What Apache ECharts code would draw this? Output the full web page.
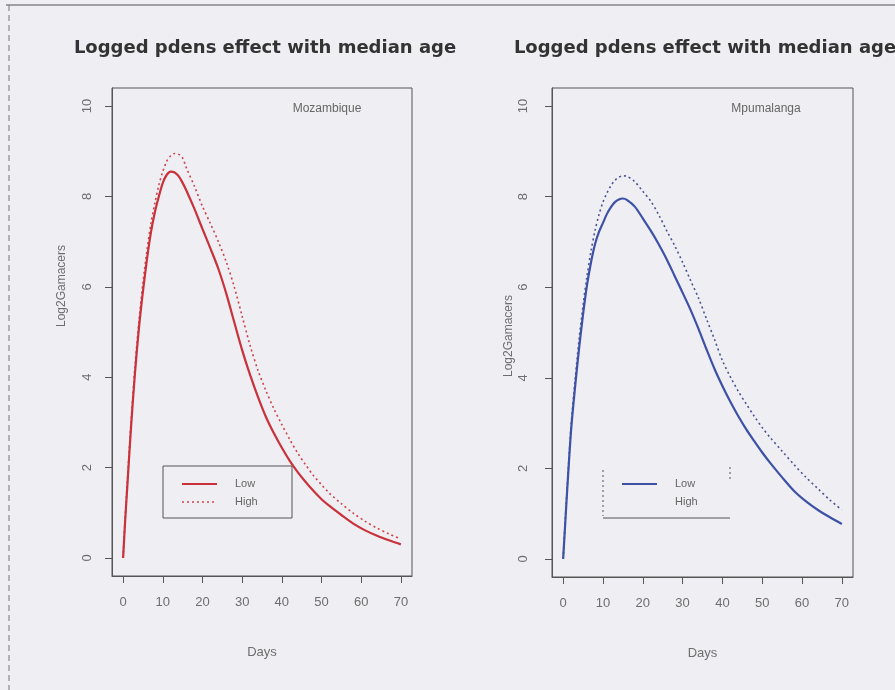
<!DOCTYPE html>
<html>
<head>
<meta charset="utf-8">
<script src="https://cdn.jsdelivr.net/npm/echarts@6/dist/echarts.min.js"></script>
<style>
  html, body { margin: 0; padding: 0; background: #eeeef3; }
  #chart { width: 895px; height: 690px; }
</style>
</head>
<body>
<div id="chart"></div>
<script>
// Days since infection (shared x values for every curve)
const days = [0, 0.5, 1, 2, 3, 4, 5, 6, 7, 8, 9, 10, 11, 12, 13, 14, 15, 16,
  18, 20, 22, 24, 26, 28, 30, 32, 34, 36, 38, 40, 42, 44, 46, 48, 50, 52,
  55, 58, 61, 64, 67, 70];

// Mozambique: log2 gametocyte density, low vs high population density
const mozLow = [0, 0.8, 1.5, 2.9, 4.1, 5.1, 5.9, 6.6, 7.2, 7.65, 8.0, 8.3, 8.48, 8.55, 8.53, 8.45, 8.3, 8.12,
  7.72, 7.28, 6.85, 6.4, 5.85, 5.22, 4.6, 4.05, 3.56, 3.12, 2.76, 2.44, 2.15, 1.9, 1.68, 1.48, 1.3, 1.15,
  0.95, 0.76, 0.61, 0.49, 0.39, 0.3];
const mozHigh = [0, 0.85, 1.6, 3.0, 4.25, 5.25, 6.1, 6.8, 7.4, 7.85, 8.25, 8.55, 8.78, 8.9, 8.95, 8.93, 8.85, 8.62,
  8.22, 7.78, 7.4, 7.0, 6.55, 6.0, 5.35, 4.7, 4.15, 3.7, 3.3, 2.95, 2.62, 2.32, 2.06, 1.82, 1.62, 1.43,
  1.2, 0.99, 0.81, 0.66, 0.53, 0.42];

// Mpumalanga
const mpuLow = [0, 0.75, 1.5, 2.85, 3.8, 4.65, 5.4, 6.05, 6.55, 6.95, 7.22, 7.42, 7.62, 7.77, 7.88, 7.94, 7.96, 7.93,
  7.78, 7.52, 7.25, 6.95, 6.62, 6.25, 5.88, 5.5, 5.08, 4.63, 4.2, 3.82, 3.47, 3.15, 2.86, 2.6, 2.35, 2.12,
  1.8, 1.5, 1.27, 1.08, 0.92, 0.77];
const mpuHigh = [0, 0.8, 1.55, 2.95, 3.95, 4.85, 5.6, 6.25, 6.8, 7.25, 7.6, 7.88, 8.08, 8.24, 8.36, 8.43, 8.46, 8.45,
  8.33, 8.12, 7.9, 7.6, 7.25, 6.92, 6.55, 6.15, 5.76, 5.3, 4.85, 4.38, 4.02, 3.7, 3.42, 3.15, 2.9, 2.68,
  2.38, 2.08, 1.8, 1.55, 1.3, 1.08];

const xTicks = [0, 10, 20, 30, 40, 50, 60, 70];
const yTicks = [0, 2, 4, 6, 8, 10];

const panelTitle = 'Logged pdens effect with median age';
const regions = ['Mozambique', 'Mpumalanga'];
const legendNames = ['Low', 'High'];

const pairs = (ys) => days.map((d, i) => [d, ys[i]]);

const axisGrey = '#555';
const labelGrey = '#6e6e6e';
const tickFont = 'Liberation Sans, Arial, sans-serif';

function xAxis(gridIndex) {
  return {
    type: 'value', gridIndex, min: -2.8, max: 72.8,
    name: 'Days', nameLocation: 'middle', nameGap: 70,
    nameTextStyle: { color: labelGrey, fontSize: 13, fontFamily: tickFont },
    axisLine: { show: true, onZero: false, lineStyle: { color: axisGrey, width: 1 } },
    axisTick: { show: true, inside: false, length: 7, customValues: xTicks, lineStyle: { color: axisGrey } },
    axisLabel: { customValues: xTicks, margin: 20, color: labelGrey, fontSize: 13, fontFamily: tickFont },
    splitLine: { show: false }
  };
}

function yAxis(gridIndex, margin) {
  return {
    type: 'value', gridIndex, min: -0.4, max: 10.4,
    axisLine: { show: true, onZero: false, lineStyle: { color: axisGrey, width: 1 } },
    axisTick: { show: true, inside: false, length: 7, customValues: yTicks, lineStyle: { color: axisGrey } },
    axisLabel: { customValues: yTicks, rotate: 90, margin, color: labelGrey, fontSize: 13, fontFamily: tickFont },
    splitLine: { show: false }
  };
}

function lineSeries(name, xi, ys, color, dotted) {
  return {
    name, type: 'line', xAxisIndex: xi, yAxisIndex: xi,
    data: pairs(ys), smooth: 0.3, showSymbol: false, silent: true,
    lineStyle: dotted ? { color, width: 1.6, type: [2, 3] } : { color, width: 2.2 },
    z: dotted ? 2 : 3
  };
}

const red = '#c9313b', redDot = '#d0424a';
const blue = '#3d51a6', blueDot = '#4b5590';

// legend boxes drawn as R-style keys
function legendKey(x, y, color, dotColor, w, fullBox) {
  const els = [];
  if (fullBox) {
    els.push({ type: 'rect', shape: { x, y, width: w, height: 52 },
      style: { fill: 'none', stroke: axisGrey, lineWidth: 1 } });
  } else {
    els.push({ type: 'line', shape: { x1: x, y1: y + 52, x2: x + w, y2: y + 52 }, style: { stroke: axisGrey, lineWidth: 1 } });
    els.push({ type: 'line', shape: { x1: x, y1: y + 4, x2: x, y2: y + 50 }, style: { stroke: axisGrey, lineWidth: 1, lineDash: [2, 3] } });
    els.push({ type: 'line', shape: { x1: x + w, y1: y + 1, x2: x + w, y2: y + 16 }, style: { stroke: axisGrey, lineWidth: 1, lineDash: [2, 3] } });
  }
  els.push({ type: 'line', shape: { x1: x + 19, y1: y + 18, x2: x + 54, y2: y + 18 }, style: { stroke: color, lineWidth: 2 } });
  if (dotColor) {
    els.push({ type: 'line', shape: { x1: x + 19, y1: y + 36, x2: x + 54, y2: y + 36 }, style: { stroke: dotColor, lineWidth: 1.5, lineDash: [2, 3] } });
  }
  legendNames.forEach((n, i) => {
    els.push({ type: 'text', x: x + 72, y: y + 18 + i * 18,
      style: { text: n, fill: '#666', font: '11px ' + tickFont, verticalAlign: 'middle' } });
  });
  return els;
}

const chart = echarts.init(document.getElementById('chart'), null, { renderer: 'canvas' });
chart.setOption({
  backgroundColor: '#eeeef3',
  animation: false,
  title: [
    { text: panelTitle, left: 260, top: 34, textAlign: 'center',
      textStyle: { fontFamily: 'DejaVu Sans', fontWeight: 'bold', fontSize: 18, color: '#333' } },
    { text: panelTitle, left: 700, top: 34, textAlign: 'center',
      textStyle: { fontFamily: 'DejaVu Sans', fontWeight: 'bold', fontSize: 18, color: '#333' } },
    { text: regions[0], left: 322, top: 98, textAlign: 'center',
      textStyle: { fontFamily: tickFont, fontWeight: 'normal', fontSize: 12, color: '#666' } },
    { text: regions[1], left: 761, top: 98, textAlign: 'center',
      textStyle: { fontFamily: tickFont, fontWeight: 'normal', fontSize: 12, color: '#666' } }
  ],
  grid: [
    { left: 112, right: 483, top: 88, bottom: 114, show: true, borderColor: axisGrey, borderWidth: 1, backgroundColor: 'transparent' },
    { left: 552, right: 42, top: 88, bottom: 113, show: true, borderColor: axisGrey, borderWidth: 1, backgroundColor: 'transparent' }
  ],
  xAxis: [xAxis(0), xAxis(1)],
  yAxis: [yAxis(0, 18), yAxis(1, 22)],
  series: [
    lineSeries(legendNames[0], 0, mozLow, red, false),
    lineSeries(legendNames[1], 0, mozHigh, redDot, true),
    lineSeries(legendNames[0], 1, mpuLow, blue, false),
    lineSeries(legendNames[1], 1, mpuHigh, blueDot, true)
  ],
  graphic: [
    // outer frame
    { type: 'line', shape: { x1: 6, y1: 5, x2: 895, y2: 5 }, style: { stroke: '#555', lineWidth: 1.2 } },
    { type: 'line', shape: { x1: 9, y1: 5, x2: 9, y2: 690 }, style: { stroke: '#777', lineWidth: 1, lineDash: [6, 4] } },
    // y-axis titles
    { type: 'text', x: 62, y: 286, rotation: Math.PI / 2,
      style: { text: 'Log2Gamacers', fill: labelGrey, font: '12px ' + tickFont, align: 'center', verticalAlign: 'middle' } },
    { type: 'text', x: 509, y: 336, rotation: Math.PI / 2,
      style: { text: 'Log2Gamacers', fill: labelGrey, font: '12px ' + tickFont, align: 'center', verticalAlign: 'middle' } },
    ...legendKey(163, 466, red, redDot, 129, true),
    ...legendKey(603, 466, blue, null, 127, false)
  ]
});
</script>
</body>
</html>
